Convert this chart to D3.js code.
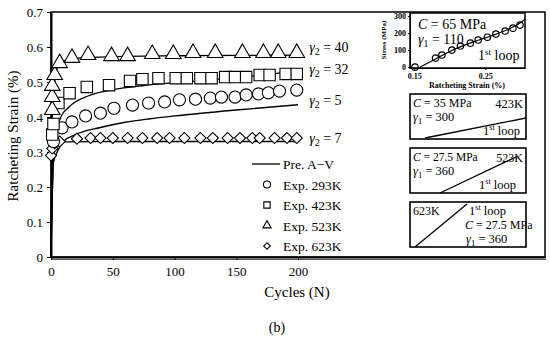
<!DOCTYPE html>
<html>
<head>
<meta charset="utf-8">
<script src="https://cdn.jsdelivr.net/npm/d3@7"></script>
<style>
	body { margin: 0; background: #ffffff; }
	svg text { font-family: "Liberation Serif", "Times New Roman", serif; fill: #000; }
	.axis path, .axis line { stroke: #000; }
</style>
</head>
<body>
<svg id="chart" width="550" height="339"></svg>
<script>

/* MAIN CHART DATA : [cycle, ratcheting strain %] */
var exp_293K = [[2,0.33],[9,0.369],[17,0.386],[28,0.403],[40,0.411],[51,0.425],[66,0.434],[79,0.44],[92,0.443],[104,0.449],[117,0.451],[129,0.454],[138,0.457],[149,0.457],[158,0.463],[168,0.466],[176,0.469],[185,0.474],[199,0.477]];
var exp_423K = [[1,0.35],[2,0.38],[6,0.44],[15,0.468],[29,0.486],[47,0.491],[64,0.503],[74,0.508],[87,0.511],[101,0.511],[110,0.511],[121,0.511],[130,0.511],[141,0.514],[149,0.514],[158,0.514],[169,0.52],[177,0.52],[190,0.523],[199,0.523]];
var exp_523K = [[1,0.42],[1,0.457],[1,0.489],[3,0.52],[7,0.554],[17,0.569],[30,0.577],[49,0.574],[62,0.574],[82,0.58],[99,0.58],[115,0.583],[133,0.583],[155,0.583],[172,0.583],[184,0.583],[199,0.583]];
var exp_623K = [[0,0.29],[1,0.31],[3,0.325],[7,0.33],[21,0.338],[32,0.34],[40,0.34],[50,0.34],[62,0.34],[74,0.34],[86,0.34],[96,0.34],[108,0.34],[121,0.34],[131,0.34],[143,0.34],[153,0.34],[163,0.34],[169,0.34],[181,0.34],[191,0.34],[199,0.34]];

var pre_293K = [[0,0],[2,0.27],[5,0.3],[10,0.33],[20,0.35],[40,0.37],[60,0.385],[80,0.395],[100,0.403],[150,0.42],[200,0.435]];
var pre_423K = [[0,0],[2,0.28],[4,0.35],[8,0.4],[15,0.43],[30,0.46],[50,0.478],[75,0.49],[100,0.498],[130,0.506],[160,0.516],[200,0.532]];
var pre_523K = [[0,0],[1,0.4],[3,0.5],[5,0.54],[8,0.555],[15,0.565],[30,0.57],[60,0.573],[100,0.575],[150,0.576],[200,0.577]];
var pre_623K = [[0,0],[1,0.27],[3,0.31],[6,0.325],[10,0.329],[50,0.33],[200,0.33]];

var curve_Labels = [["\u03b3", "2", " = 40", 0.6], ["\u03b3", "2", " = 32", 0.538], ["\u03b3", "2", " = 5", 0.45], ["\u03b3", "2", " = 7", 0.34]];

var x_Ticks = [0, 50, 100, 150, 200];
var y_Ticks = [0, 0.1, 0.2, 0.3, 0.4, 0.5, 0.6, 0.7];

var legend_Names = ["Pre. A\u2212V", "Exp. 293K", "Exp. 423K", "Exp. 523K", "Exp. 623K"];

/* INSET DATA : 293K first loop, [strain %, stress MPa] */
var loop_Exp = [[0.151,0],[0.18,53],[0.189,71],[0.203,100],[0.215,124],[0.229,141],[0.24,159],[0.253,176],[0.265,194],[0.278,212],[0.289,229],[0.299,247]];
var loop_Pre = [[0.158,0],[0.18,48],[0.2,92],[0.22,128],[0.24,158],[0.26,186],[0.28,218],[0.3,262],[0.306,282]];
var loop_X_Ticks = [0.15, 0.25];
var loop_Y_Ticks = [0, 100, 200, 300];

var svg = d3.select("#chart");

/* main scales */
var x = d3.scaleLinear().domain([0, 400]).range([51, 545]);
var y = d3.scaleLinear().domain([0, 0.7]).range([257, 12]);

/* frame of plot area */
svg.append("rect")
	.attr("x", 51).attr("y", 12)
	.attr("width", 494).attr("height", 245)
	.attr("fill", "none").attr("stroke", "#000").attr("stroke-width", 1.5);

/* shadow under bottom axis */
svg.append("line")
	.attr("x1", 51).attr("x2", 546)
	.attr("y1", 259.5).attr("y2", 259.5)
	.attr("stroke", "#555").attr("stroke-width", 1);

var x_Axis = svg.append("g").attr("class", "axis")
	.attr("transform", "translate(0,257)")
	.call(d3.axisBottom(x).tickValues(x_Ticks).tickSize(3).tickSizeOuter(0));
x_Axis.select(".domain").attr("stroke-width", 2.2);
x_Axis.selectAll("text").attr("font-size", 13).attr("dy", "1.0em");

var y_Axis = svg.append("g").attr("class", "axis")
	.attr("transform", "translate(51,0)")
	.call(d3.axisLeft(y).tickValues(y_Ticks).tickSize(4).tickSizeOuter(0)
		.tickFormat(function(d){ return d === 0 ? "0" : d3.format(".1f")(d); }));
y_Axis.select(".domain").attr("stroke-width", 2);
y_Axis.selectAll("text").attr("font-size", 13).attr("x", -8);
svg.selectAll(".axis text").style("font-family", "Liberation Serif, serif");

/* axis titles */
svg.append("text")
	.attr("transform", "translate(18,136) rotate(-90)")
	.attr("text-anchor", "middle").attr("font-size", 15)
	.text("Ratcheting Strain (%)");
svg.append("text")
	.attr("x", 297).attr("y", 297)
	.attr("text-anchor", "middle").attr("font-size", 15)
	.text("Cycles (N)");
svg.append("text")
	.attr("x", 277).attr("y", 332)
	.attr("text-anchor", "middle").attr("font-size", 14)
	.text("(b)");

/* predicted curves */
var pre_Line = d3.line()
	.x(function(d){ return x(d[0]); })
	.y(function(d){ return y(d[1]); })
	.curve(d3.curveMonotoneX);

[pre_293K, pre_423K, pre_523K, pre_623K].forEach(function(series){
	svg.append("path")
		.attr("d", pre_Line(series))
		.attr("fill", "none").attr("stroke", "#000").attr("stroke-width", 1.3);
});

/* marker shapes */
var marker_Shapes = {
	circle:   d3.symbol().type(d3.symbolCircle).size(115),
	square:   d3.symbol().type(d3.symbolSquare).size(130),
	triangle: d3.symbol().type(d3.symbolTriangle).size(105),
	diamond:  d3.symbol().type(d3.symbolSquare).size(62)
};

function draw_Markers(series, shape){
	svg.append("g").selectAll("path")
		.data(series)
		.enter().append("path")
		.attr("d", marker_Shapes[shape])
		.attr("transform", function(d){
			var t = "translate(" + x(d[0]) + "," + y(d[1]) + ")";
			if(shape == "diamond") t += " rotate(45)";
			return t;
		})
		.attr("fill", "#fff").attr("stroke", "#000").attr("stroke-width", 1.1);
}

draw_Markers(exp_623K, "diamond");
draw_Markers(exp_293K, "circle");
draw_Markers(exp_423K, "square");
draw_Markers(exp_523K, "triangle");

/* gamma labels at right end of curves */
curve_Labels.forEach(function(l){
	var t = svg.append("text")
		.attr("x", x(205) + 5).attr("y", y(l[3]) + 5)
		.attr("font-size", 14);
	t.append("tspan").attr("font-style", "italic").text(l[0]);
	t.append("tspan").attr("font-size", 10).attr("dy", 3).text(l[1]);
	t.append("tspan").attr("dy", -3).text(l[2]);
});

/* legend */
var legend = svg.append("g");
legend.append("line")
	.attr("x1", 252).attr("x2", 280).attr("y1", 164).attr("y2", 164)
	.attr("stroke", "#000").attr("stroke-width", 1.3);
var legend_Shapes = [null, "circle", "square", "triangle", "diamond"];
var legend_Size = { circle: 40, square: 40, triangle: 30, diamond: 22 };
legend_Names.forEach(function(name, i){
	var row_Y = 164 + i * 20.5;
	legend.append("text")
		.attr("x", 283).attr("y", row_Y + 5)
		.attr("font-size", 13.5)
		.text(name);
	if(legend_Shapes[i]){
		legend.append("path")
			.attr("d", d3.symbol().type(legend_Shapes[i] == "circle" ? d3.symbolCircle :
				legend_Shapes[i] == "triangle" ? d3.symbolTriangle : d3.symbolSquare).size(legend_Size[legend_Shapes[i]])())
			.attr("transform", "translate(267," + row_Y + ")" + (legend_Shapes[i] == "diamond" ? " rotate(45)" : ""))
			.attr("fill", "#fff").attr("stroke", "#000").attr("stroke-width", 1.1);
	}
});

/* INSET 1 : stress - strain first loop */
var ix = d3.scaleLinear().domain([0.144, 0.306]).range([410, 525]);
var iy = d3.scaleLinear().domain([-5, 318]).range([68, 13]);

svg.append("rect")
	.attr("x", 410).attr("y", 13).attr("width", 115).attr("height", 55)
	.attr("fill", "#fff").attr("stroke", "#000").attr("stroke-width", 1.5);

var ix_Axis = svg.append("g").attr("class", "axis")
	.attr("transform", "translate(0,68)")
	.call(d3.axisBottom(ix).tickValues(loop_X_Ticks).tickSize(2).tickSizeOuter(0));
ix_Axis.selectAll("text").attr("font-size", 8).attr("font-weight", "bold").attr("dy", "0.8em");
var iy_Axis = svg.append("g").attr("class", "axis")
	.attr("transform", "translate(410,0)")
	.call(d3.axisLeft(iy).tickValues(loop_Y_Ticks).tickSize(2).tickSizeOuter(0));
iy_Axis.selectAll("text").attr("font-size", 8).attr("font-weight", "bold").attr("x", -4);
svg.selectAll(".axis text").style("font-family", "Liberation Serif, serif");

svg.append("text")
	.attr("transform", "translate(386,40) rotate(-90)")
	.attr("text-anchor", "middle").attr("font-size", 7).attr("font-weight", "bold")
	.text("Stress (MPa)");
svg.append("text")
	.attr("x", 467).attr("y", 88)
	.attr("text-anchor", "middle").attr("font-size", 8).attr("font-weight", "bold")
	.text("Ratcheting Strain (%)");

svg.append("path")
	.attr("d", d3.line().x(function(d){ return ix(d[0]); }).y(function(d){ return iy(d[1]); }).curve(d3.curveMonotoneX)(loop_Pre))
	.attr("fill", "none").attr("stroke", "#000").attr("stroke-width", 1.2);
svg.append("g").selectAll("circle")
	.data(loop_Exp).enter().append("circle")
	.attr("cx", function(d){ return ix(d[0]); })
	.attr("cy", function(d){ return iy(d[1]); })
	.attr("r", 3.2)
	.attr("fill", "none").attr("stroke", "#000").attr("stroke-width", 1.2);

/* text helper for C and gamma lines */
function c_Text(px, py, value, size){
	var t = svg.append("text").attr("x", px).attr("y", py).attr("font-size", size);
	t.append("tspan").attr("font-style", "italic").text("C");
	t.append("tspan").text(" = " + value + " MPa");
	return t;
}
function gamma_Text(px, py, value, size){
	var t = svg.append("text").attr("x", px).attr("y", py).attr("font-size", size);
	t.append("tspan").attr("font-style", "italic").text("\u03b3");
	t.append("tspan").attr("font-size", size * 0.7).attr("dy", 3).text("1");
	t.append("tspan").attr("dy", -3).text(" = " + value);
	return t;
}
function loop_Text(px, py, size){
	var t = svg.append("text").attr("x", px).attr("y", py).attr("font-size", size);
	t.append("tspan").text("1");
	t.append("tspan").attr("font-size", size * 0.65).attr("dy", -5).text("st");
	t.append("tspan").attr("dy", 5).text(" loop");
	return t;
}

c_Text(418, 29, "65", 14);
gamma_Text(418, 44, "110", 14);
loop_Text(478, 60, 14);

/* INSETS 2-4 : first loop boxes */
var small_Boxes = [
	{ top: 94,  c: "35",   g: "300", temp: "423K", line: [[425,138],[526,118]] },
	{ top: 148, c: "27.5", g: "360", temp: "523K", line: [[440,193],[518,156]] },
	{ top: 202, c: "27.5", g: "360", temp: "623K", line: [[415,247],[467,204]] }
];

small_Boxes.forEach(function(b, i){
	svg.append("rect")
		.attr("x", 410).attr("y", b.top).attr("width", 116).attr("height", 45)
		.attr("fill", "#fff").attr("stroke", "#000").attr("stroke-width", 1.6);
	svg.append("line")
		.attr("x1", b.line[0][0]).attr("y1", b.line[0][1])
		.attr("x2", b.line[1][0]).attr("y2", b.line[1][1])
		.attr("stroke", "#000").attr("stroke-width", 1.3);
	if(i < 2){
		c_Text(413, b.top + 13, b.c, i == 0 ? 12 : 11.5);
		gamma_Text(413, b.top + 27, b.g, 12.5);
		svg.append("text").attr("x", 523).attr("y", b.top + 14)
			.attr("text-anchor", "end").attr("font-size", i == 0 ? 12.5 : 12).text(b.temp);
		loop_Text(i == 0 ? 483 : 479, b.top + 41, 12.5);
	} else {
		svg.append("text").attr("x", 413).attr("y", b.top + 13)
			.attr("font-size", 12).text(b.temp);
		loop_Text(469, b.top + 13, 12.5);
		c_Text(465, b.top + 27, b.c, 12);
		gamma_Text(466, b.top + 41, b.g, 12.5);
	}
});

</script>
</body>
</html>
